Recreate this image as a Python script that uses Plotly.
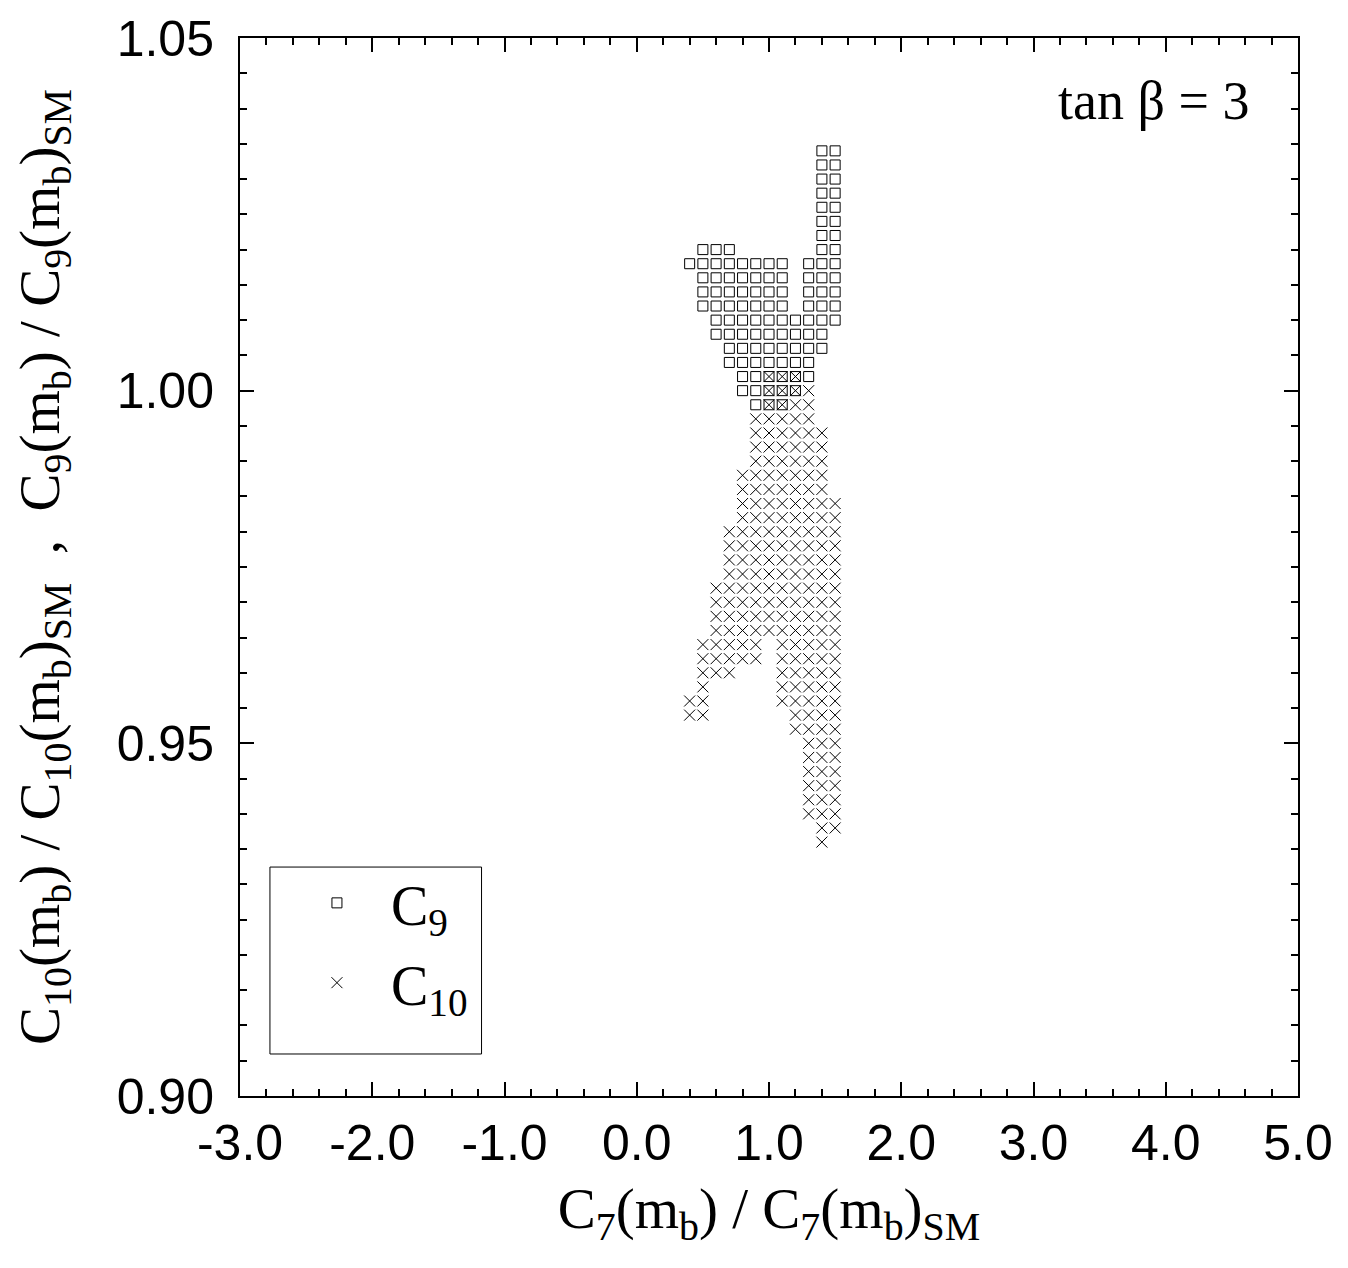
import plotly.graph_objects as go

# ---- data (grid rows: y value, list of x values) ----
c9_rows_y = [1.034, 1.032, 1.030, 1.028, 1.026, 1.024, 1.022, 1.020, 1.018, 1.016,
             1.014, 1.012, 1.010, 1.008, 1.006, 1.004, 1.002, 1.000, 0.998]
c9_rows_x = [
    [1.4, 1.5],
    [1.4, 1.5],
    [1.4, 1.5],
    [1.4, 1.5],
    [1.4, 1.5],
    [1.4, 1.5],
    [1.4, 1.5],
    [0.5, 0.6, 0.7, 1.4, 1.5],
    [0.4, 0.5, 0.6, 0.7, 0.8, 0.9, 1.0, 1.1, 1.3, 1.4, 1.5],
    [0.5, 0.6, 0.7, 0.8, 0.9, 1.0, 1.1, 1.3, 1.4, 1.5],
    [0.5, 0.6, 0.7, 0.8, 0.9, 1.0, 1.1, 1.3, 1.4, 1.5],
    [0.5, 0.6, 0.7, 0.8, 0.9, 1.0, 1.1, 1.3, 1.4, 1.5],
    [0.6, 0.7, 0.8, 0.9, 1.0, 1.1, 1.2, 1.3, 1.4, 1.5],
    [0.6, 0.7, 0.8, 0.9, 1.0, 1.1, 1.2, 1.3, 1.4],
    [0.7, 0.8, 0.9, 1.0, 1.1, 1.2, 1.3, 1.4],
    [0.7, 0.8, 0.9, 1.0, 1.1, 1.2, 1.3],
    [0.8, 0.9, 1.0, 1.1, 1.2, 1.3],
    [0.8, 0.9, 1.0, 1.1, 1.2],
    [0.9, 1.0, 1.1],
]

c10_rows_y = [1.002, 1.000, 0.998, 0.996, 0.994, 0.992, 0.990, 0.988, 0.986, 0.984,
              0.982, 0.980, 0.978, 0.976, 0.974, 0.972, 0.970, 0.968, 0.966, 0.964,
              0.962, 0.960, 0.958, 0.956, 0.954, 0.952, 0.950, 0.948, 0.946, 0.944,
              0.942, 0.940, 0.938, 0.936]
c10_rows_x = [
    [1.0, 1.1, 1.2],
    [1.0, 1.1, 1.2, 1.3],
    [1.0, 1.1, 1.2, 1.3],
    [0.9, 1.0, 1.1, 1.2, 1.3],
    [0.9, 1.0, 1.1, 1.2, 1.3, 1.4],
    [0.9, 1.0, 1.1, 1.2, 1.3, 1.4],
    [0.9, 1.0, 1.1, 1.2, 1.3, 1.4],
    [0.8, 0.9, 1.0, 1.1, 1.2, 1.3, 1.4],
    [0.8, 0.9, 1.0, 1.1, 1.2, 1.3, 1.4],
    [0.8, 0.9, 1.0, 1.1, 1.2, 1.3, 1.4, 1.5],
    [0.8, 0.9, 1.0, 1.1, 1.2, 1.3, 1.4, 1.5],
    [0.7, 0.8, 0.9, 1.0, 1.1, 1.2, 1.3, 1.4, 1.5],
    [0.7, 0.8, 0.9, 1.0, 1.1, 1.2, 1.3, 1.4, 1.5],
    [0.7, 0.8, 0.9, 1.0, 1.1, 1.2, 1.3, 1.4, 1.5],
    [0.7, 0.8, 0.9, 1.0, 1.1, 1.2, 1.3, 1.4, 1.5],
    [0.6, 0.7, 0.8, 0.9, 1.0, 1.1, 1.2, 1.3, 1.4, 1.5],
    [0.6, 0.7, 0.8, 0.9, 1.0, 1.1, 1.2, 1.3, 1.4, 1.5],
    [0.6, 0.7, 0.8, 0.9, 1.0, 1.1, 1.2, 1.3, 1.4, 1.5],
    [0.6, 0.7, 0.8, 0.9, 1.0, 1.1, 1.2, 1.3, 1.4, 1.5],
    [0.5, 0.6, 0.7, 0.8, 0.9, 1.1, 1.2, 1.3, 1.4, 1.5],
    [0.5, 0.6, 0.7, 0.8, 0.9, 1.1, 1.2, 1.3, 1.4, 1.5],
    [0.5, 0.6, 0.7, 1.1, 1.2, 1.3, 1.4, 1.5],
    [0.5, 1.1, 1.2, 1.3, 1.4, 1.5],
    [0.4, 0.5, 1.1, 1.2, 1.3, 1.4, 1.5],
    [0.4, 0.5, 1.2, 1.3, 1.4, 1.5],
    [1.2, 1.3, 1.4, 1.5],
    [1.3, 1.4, 1.5],
    [1.3, 1.4, 1.5],
    [1.3, 1.4, 1.5],
    [1.3, 1.4, 1.5],
    [1.3, 1.4, 1.5],
    [1.3, 1.4, 1.5],
    [1.4, 1.5],
    [1.4],
]

x_tickvals = [-3.0, -2.0, -1.0, 0.0, 1.0, 2.0, 3.0, 4.0, 5.0]
x_ticktext = ["-3.0", "-2.0", "-1.0", "0.0", "1.0", "2.0", "3.0", "4.0", "5.0"]
y_tickvals = [0.90, 0.95, 1.00, 1.05]
y_ticktext = ["0.90", "0.95", "1.00", "1.05"]

series_names = ["C<sub>9</sub>", "C<sub>10</sub>"]


def flatten(rows_y, rows_x):
    xs, ys = [], []
    for yv, xl in zip(rows_y, rows_x):
        for xv in xl:
            xs.append(xv)
            ys.append(yv)
    return xs, ys


c9_x, c9_y = flatten(c9_rows_y, c9_rows_x)
c10_x, c10_y = flatten(c10_rows_y, c10_rows_x)

fig = go.Figure()
fig.add_trace(go.Scatter(
    x=c9_x, y=c9_y, mode="markers", name=series_names[0], legendgroup="g9",
    marker=dict(symbol="square-open", size=10, color="black",
                line=dict(width=1, color="black")),
))
fig.add_trace(go.Scatter(
    x=c10_x, y=c10_y, mode="markers", name=series_names[1], legendgroup="g10",
    marker=dict(symbol="x-thin", size=11, color="black",
                line=dict(width=1, color="black")),
))

serif = "Liberation Serif, Times New Roman, serif"
tick_font = dict(family="Liberation Sans, Arial, sans-serif", size=50, color="black")
title_font = dict(family=serif, size=57, color="black")

fig.update_xaxes(
    range=[-3.0, 5.0], tickvals=x_tickvals, ticktext=x_ticktext,
    ticks="inside", ticklen=14, tickwidth=1.5, tickcolor="black",
    minor=dict(dtick=0.2, ticks="inside", ticklen=7, tickwidth=1.5, tickcolor="black"),
    showline=True, linecolor="black", linewidth=2, mirror="allticks",
    showgrid=False, zeroline=False, tickfont=tick_font,
    ticklabelstandoff=2, automargin=False,
    title=dict(text="C<sub>7</sub>(m<sub>b</sub>) / C<sub>7</sub>(m<sub>b</sub>)<sub>SM</sub>",
               font=title_font, standoff=18),
)
fig.update_yaxes(
    range=[0.90, 1.05], tickvals=y_tickvals, ticktext=y_ticktext,
    ticks="inside", ticklen=14, tickwidth=1.5, tickcolor="black",
    minor=dict(dtick=0.005, ticks="inside", ticklen=7, tickwidth=1.5, tickcolor="black"),
    showline=True, linecolor="black", linewidth=2, mirror="allticks",
    showgrid=False, zeroline=False, tickfont=tick_font,
    ticklabelstandoff=14, automargin=False,
    title=dict(text=("C<sub>10</sub>(m<sub>b</sub>) / C<sub>10</sub>(m<sub>b</sub>)<sub>SM</sub>"
                     "\u00a0\u00a0,\u00a0\u00a0"
                     "C<sub>9</sub>(m<sub>b</sub>) / C<sub>9</sub>(m<sub>b</sub>)<sub>SM</sub>"),
               font=title_font, standoff=48),
)

fig.add_annotation(
    text="tan \u03b2 = 3", xref="paper", yref="paper", x=0.9557, y=0.9405,
    xanchor="right", yanchor="middle", showarrow=False,
    font=dict(family=serif, size=54, color="black"),
)

# legend frame
fig.add_shape(type="rect", xref="paper", yref="paper",
              x0=0.0283, x1=0.2283, y0=0.0397, y1=0.2164,
              line=dict(color="black", width=1), fillcolor="rgba(0,0,0,0)")

fig.update_layout(
    width=1348, height=1268,
    margin=dict(l=232, r=58, t=30, b=180, autoexpand=False),
    paper_bgcolor="white", plot_bgcolor="white",
    showlegend=True,
    legend=dict(
        x=0.0283, y=0.2231, xanchor="left", yanchor="top",
        borderwidth=0, bgcolor="rgba(0,0,0,0)",
        font=dict(family=serif, size=56, color="black"),
        indentation=13, itemwidth=98,
        traceorder="grouped", tracegroupgap=4,
    ),
)

fig.write_html("out.html")
